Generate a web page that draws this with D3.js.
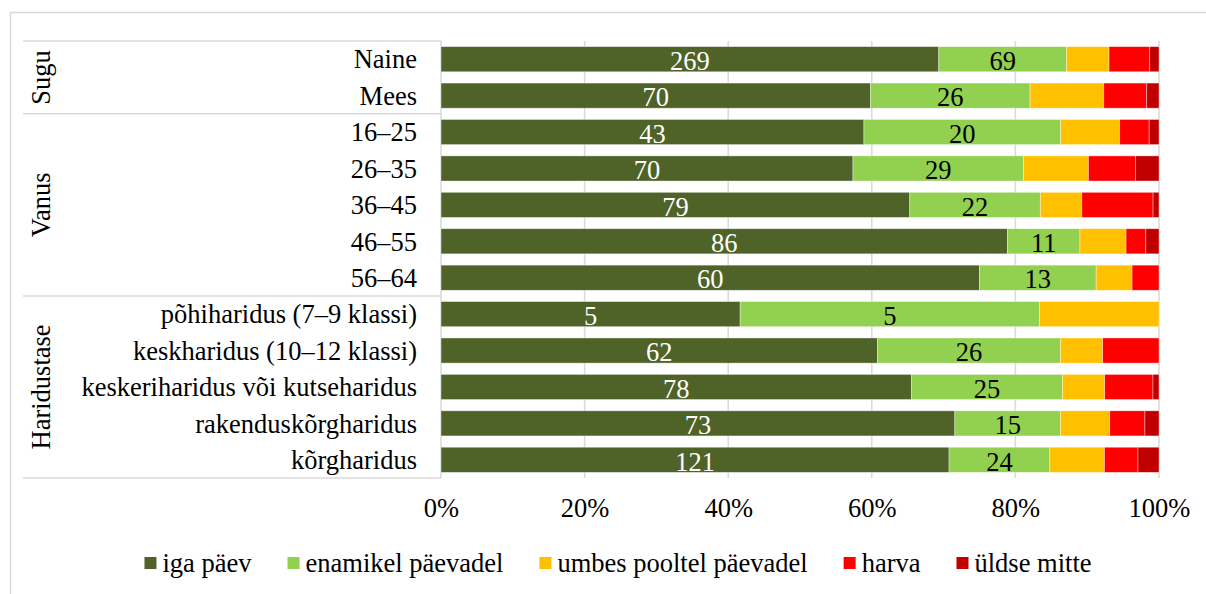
<!DOCTYPE html>
<html><head><meta charset="utf-8">
<script src="https://cdn.jsdelivr.net/npm/d3@7"></script>
<style>
html,body{margin:0;padding:0;background:#fff;}
svg{display:block;}
text{font-family:"Liberation Serif","Times New Roman",serif;}
</style></head>
<body>
<svg id="chart" width="1206" height="594"></svg>
<script>
const categories = ["Naine","Mees","16–25","26–35","36–45","46–55","56–64",
  "põhiharidus (7–9 klassi)","keskharidus (10–12 klassi)","keskeriharidus või kutseharidus","rakenduskõrgharidus","kõrgharidus"];
const groups = [
  {name:"Sugu", first:"Naine", last:"Mees"},
  {name:"Vanus", first:"16–25", last:"56–64"},
  {name:"Haridustase", first:"põhiharidus (7–9 klassi)", last:"kõrgharidus"}
];
const seriesNames = ["iga päev","enamikel päevadel","umbes pooltel päevadel","harva","üldse mitte"];
const colors = ["#4f6228","#92d050","#ffc000","#ff0000","#c00000"];
const igaPaev   = [269,70,43,70,79,86,60,5,62,78,73,121];
const enamikel  = [69,26,20,29,22,11,13,5,26,25,15,24];
const pooltel   = [23,12,6,11,7,7,4,2,6,7,7,13];
const harva     = [22,7,3,8,12,3,3,0,8,8,5,8];
const yldseMitte= [5,2,1,4,1,2,0,0,0,1,2,5];
const tickValues = [0,0.2,0.4,0.6,0.8,1];

const seriesData = [igaPaev,enamikel,pooltel,harva,yldseMitte];
const rows = categories.map((c,i)=>{
  const o = {cat:c};
  seriesNames.forEach((s,j)=>o[s]=seriesData[j][i]);
  return o;
});

const FS = 26.5;
const svg = d3.select("#chart");
const plotTop = 41, plotBottom = 478, plotLeft = 441, plotRight = 1159;

svg.append("rect").attr("x",10.5).attr("y",12.5).attr("width",1300).attr("height",700)
  .attr("fill","none").attr("stroke","#d9d9d9").attr("stroke-width",1.5);

const x = d3.scaleLinear().domain([0,1]).range([plotLeft,plotRight]);
const y = d3.scaleBand().domain(categories).range([plotTop,plotBottom]).paddingInner(0.31).paddingOuter(0.155);
const gap = (y.step()-y.bandwidth())/2;

// gridlines
svg.append("g").selectAll("line").data(tickValues).join("line")
  .attr("x1",d=>x(d)).attr("x2",d=>x(d)).attr("y1",plotTop).attr("y2",plotBottom)
  .attr("stroke","#d9d9d9").attr("stroke-width",1.5);

// group separators
const sepYs = [y(groups[0].first)-gap].concat(groups.map(g=>y(g.last)+y.bandwidth()+gap));
svg.append("g").selectAll("line").data(sepYs).join("line")
  .attr("x1",23).attr("x2",plotLeft).attr("y1",d=>d).attr("y2",d=>d)
  .attr("stroke","#d9d9d9").attr("stroke-width",1.5);

const stack = d3.stack().keys(seriesNames).offset(d3.stackOffsetExpand);
const stacked = stack(rows);

const layer = svg.append("g").selectAll("g").data(stacked).join("g")
  .attr("fill",(d,i)=>colors[i]);
layer.selectAll("rect").data(d=>d).join("rect")
  .attr("x",d=>x(d[0])).attr("width",d=>Math.max(0,x(d[1])-x(d[0])))
  .attr("y",d=>y(d.data.cat)).attr("height",y.bandwidth())
  .attr("stroke","#ffffff").attr("stroke-opacity",0.5).attr("stroke-width",0.75);

// value labels for first two series
stacked.slice(0,2).forEach((s,i)=>{
  svg.append("g").selectAll("text").data(s).join("text")
    .attr("x",d=>(x(d[0])+x(d[1]))/2)
    .attr("y",d=>y(d.data.cat)+y.bandwidth()/2+1.5)
    .attr("dy","0.35em")
    .attr("text-anchor","middle")
    .attr("font-size",FS)
    .attr("fill",i===0?"#ffffff":"#000000")
    .text(d=>d.data[s.key]);
});

// category labels
svg.append("g").selectAll("text").data(categories).join("text")
  .attr("x",417).attr("y",d=>y(d)+y.bandwidth()/2).attr("dy","0.35em")
  .attr("text-anchor","end").attr("font-size",FS).attr("fill","#000").text(d=>d);

// group labels (rotated)
svg.append("g").selectAll("text").data(groups).join("text")
  .attr("transform",g=>{
    const cy=(y(g.first)-gap + y(g.last)+y.bandwidth()+gap)/2;
    return `translate(42,${cy}) rotate(-90)`;
  })
  .attr("dy","0.3em").attr("text-anchor","middle").attr("font-size",FS).attr("fill","#000")
  .text(g=>g.name);

// x axis tick labels
const xAxis = d3.axisBottom(x).tickValues(tickValues).tickFormat(d3.format(".0%")).tickSize(0).tickPadding(0);
const ax = svg.append("g").attr("transform",`translate(0,${plotBottom})`).call(xAxis);
ax.select(".domain").remove();
ax.selectAll("text").attr("font-size",FS).attr("fill","#000").attr("y",30).attr("dy","0.35em")
  .style("font-family",'"Liberation Serif","Times New Roman",serif');

// legend
const lg = svg.append("g");
const items = lg.selectAll("g").data(seriesNames).join("g");
items.append("rect").attr("width",12).attr("height",12).attr("y",-6).attr("fill",(d,i)=>colors[i]);
items.append("text").attr("x",18).attr("dy","0.35em").attr("font-size",FS).attr("fill","#000").text(d=>d);
let xs=0; const pos=[]; const GAP=36;
items.each(function(d,i){ const w=18+this.querySelector("text").getComputedTextLength(); pos.push(xs); xs+=w+GAP; });
const total = xs-GAP;
const startX = 618-total/2;
items.attr("transform",(d,i)=>`translate(${startX+pos[i]},563)`);
</script>
</body></html>
